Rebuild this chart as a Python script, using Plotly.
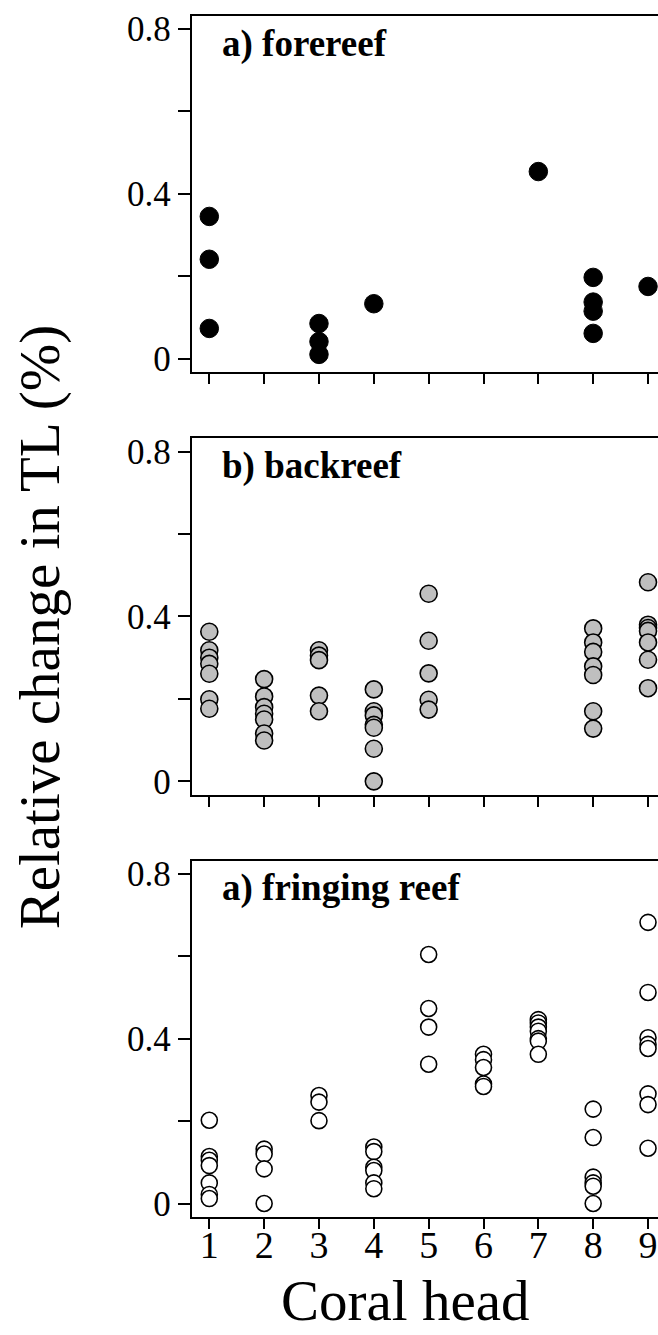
import plotly.graph_objects as go

# Relative change in trophic level (TL) per coral head, three reef zones
forereef_head = [1, 1, 1, 3, 3, 3, 4, 7, 8, 8, 8, 8, 9]
forereef_tl = [0.345, 0.241, 0.073, 0.085, 0.041, 0.010, 0.133, 0.454,
               0.197, 0.137, 0.115, 0.061, 0.175]

backreef_head = [1] * 7 + [2] * 7 + [3] * 5 + [4] * 7 + [5] * 5 + [8] * 7 + [9] * 7
backreef_tl = [0.363, 0.318, 0.300, 0.285, 0.261, 0.199, 0.176,
               0.248, 0.206, 0.180, 0.164, 0.150, 0.116, 0.099,
               0.318, 0.305, 0.294, 0.208, 0.170,
               0.223, 0.170, 0.160, 0.137, 0.130, 0.079, 0.000,
               0.455, 0.341, 0.262, 0.198, 0.174,
               0.371, 0.337, 0.314, 0.279, 0.258, 0.170, 0.128,
               0.483, 0.380, 0.372, 0.365, 0.337, 0.295, 0.226]

fringing_head = ([1] * 7 + [2] * 4 + [3] * 3 + [4] * 6 + [5] * 4 + [6] * 5
                 + [7] * 7 + [8] * 6 + [9] * 8)
fringing_tl = [0.202, 0.114, 0.105, 0.092, 0.050, 0.022, 0.012,
               0.132, 0.120, 0.084, 0.000,
               0.262, 0.246, 0.201,
               0.137, 0.126, 0.088, 0.080, 0.050, 0.036,
               0.604, 0.473, 0.428, 0.338,
               0.362, 0.349, 0.330, 0.290, 0.284,
               0.446, 0.438, 0.428, 0.418, 0.400, 0.394, 0.362,
               0.229, 0.160, 0.064, 0.050, 0.042, 0.000,
               0.682, 0.512, 0.402, 0.386, 0.376, 0.266, 0.240, 0.134]

panel_titles = ["a) forereef", "b) backreef", "a) fringing reef"]
head_ticks = [1, 2, 3, 4, 5, 6, 7, 8, 9]
y_ticks = [0, 0.2, 0.4, 0.6, 0.8]
y_ticktext = ["0", "", "0.4", "", "0.8"]

W, H = 658, 1335
SERIF = "Liberation Serif, Times New Roman, serif"

# panel boxes in pixels (top, bottom)
panel_px = [(11, 370), (437.3, 796.7), (863.3, 1222.7)]
x_left_px = 191.7

series = [
    (forereef_head, forereef_tl, dict(size=18.5, color="black", line=dict(color="black", width=1))),
    (backreef_head, backreef_tl, dict(size=17, color="#bfbfbf", line=dict(color="black", width=1.6))),
    (fringing_head, fringing_tl, dict(size=16, color="white", line=dict(color="black", width=1.6))),
]

fig = go.Figure()
layout = dict(
    width=W, height=H,
    margin=dict(l=0, r=0, t=0, b=0),
    paper_bgcolor="white", plot_bgcolor="white",
    showlegend=False,
    font=dict(family=SERIF, color="black"),
    annotations=[],
)

for i, ((xs, ys, mk), (top, bot)) in enumerate(zip(series, panel_px)):
    n = "" if i == 0 else str(i + 1)
    fig.add_trace(go.Scatter(x=xs, y=ys, mode="markers", marker=mk,
                             xaxis="x" + n, yaxis="y" + n, cliponaxis=True))
    last = i == 2
    layout["xaxis" + n] = dict(
        domain=[x_left_px / W, 1], range=[0.679, 9.182], anchor="y" + n,
        tickmode="array", tickvals=head_ticks,
        ticktext=[str(t) for t in head_ticks] if last else [""] * 9,
        ticks="outside", ticklen=10, tickwidth=2, tickcolor="black",
        ticklabelstandoff=-16,
        showline=True, linewidth=2, linecolor="black", mirror=True,
        showgrid=False, zeroline=False,
        tickfont=dict(family=SERIF, size=38, color="black"),
    )
    layout["yaxis" + n] = dict(
        domain=[1 - bot / H, 1 - top / H], range=[-0.032, 0.832], anchor="x" + n,
        tickmode="array", tickvals=y_ticks, ticktext=y_ticktext,
        ticks="outside", ticklen=12, tickwidth=2, tickcolor="black",
        showline=True, linewidth=2, linecolor="black", mirror=False,
        showgrid=False, zeroline=False,
        tickfont=dict(family=SERIF, size=35, color="black"),
    )
    layout["annotations"].append(dict(
        text="<b>" + panel_titles[i] + "</b>", xref="paper", yref="paper",
        x=220 / W, y=1 - (top + 5) / H, xanchor="left", yanchor="top",
        showarrow=False, font=dict(family=SERIF, size=37, color="black"),
    ))

layout["annotations"].append(dict(
    text="Relative change in TL (%)", xref="paper", yref="paper",
    x=40 / W, y=1 - 628 / H, xanchor="center", yanchor="middle",
    textangle=-90, showarrow=False,
    font=dict(family=SERIF, size=57, color="black"),
))
layout["annotations"].append(dict(
    text="Coral head", xref="paper", yref="paper",
    x=405 / W, y=0, xanchor="center", yanchor="bottom", yshift=-6,
    showarrow=False, font=dict(family=SERIF, size=57, color="black"),
))

fig.update_layout(**layout)
fig.write_html("out.html")
